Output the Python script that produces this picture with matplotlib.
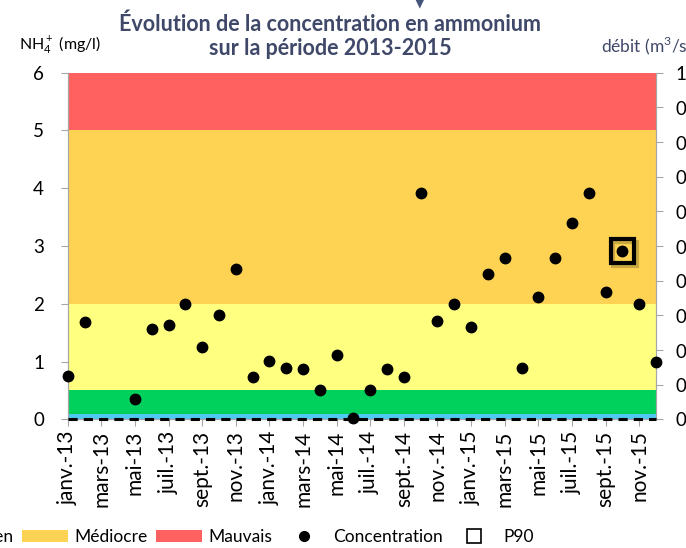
import numpy as np
import matplotlib
matplotlib.use('Agg')
import matplotlib.pyplot as plt
import matplotlib.patheffects as pe
from matplotlib.patches import Patch
from matplotlib.lines import Line2D

plt.rcParams['font.family'] = ['Lato', 'DejaVu Sans']
plt.rcParams['mathtext.fontset'] = 'custom'
plt.rcParams['mathtext.rm'] = 'Lato'

# monthly data, janv.-13 .. déc.-15
months = np.arange(36)
concentration = [0.75, 1.68, np.nan, np.nan, 0.36, 1.56, 1.63, 1.99, 1.26, 1.81, 2.61, 0.73,
                 1.01, 0.89, 0.87, 0.51, 1.11, 0.03, 0.50, 0.87, 0.74, 3.91, 1.71, 2.00,
                 1.60, 2.51, 2.80, 0.89, 2.11, 2.80, 3.40, 3.91, 2.21, 2.91, 2.00, 1.00]
debit = [0.0] * 36
p90_month = 33
p90_value = 2.91

tick_labels = ['janv.-13', 'mars-13', 'mai-13', 'juil.-13', 'sept.-13', 'nov.-13',
               'janv.-14', 'mars-14', 'mai-14', 'juil.-14', 'sept.-14', 'nov.-14',
               'janv.-15', 'mars-15', 'mai-15', 'juil.-15', 'sept.-15', 'nov.-15']

band_limits = [0, 0.1, 0.5, 2, 5, 6]
band_names = ['Très bon', 'Bon', 'Moyen', 'Médiocre', 'Mauvais']
band_colors = ['#4FC8F2', '#00D15C', '#FFFF80', '#FED354', '#FF6161']

right_ticks = [0, 0.1, 0.2, 0.3, 0.4, 0.5, 0.6, 0.7, 0.8, 0.9, 1]
right_labels = ['0', '0,1', '0,2', '0,3', '0,4', '0,5', '0,6', '0,7', '0,8', '0,9', '1']

fig = plt.figure(figsize=(6.86, 5.48), dpi=100)
ax = fig.add_axes([67.7 / 686, 1 - 419.3 / 548, (656 - 67.7) / 686, (419.3 - 72.7) / 548])
ax2 = ax.twinx()

gray = '#A6A6A6'
for i, name in enumerate(band_names):
    ax.axhspan(band_limits[i], band_limits[i + 1], color=band_colors[i], lw=0, zorder=0)

ax.set_xlim(0, 35)
ax.set_ylim(0, 6)
ax2.set_ylim(0, 1)

# débit (secondary axis)
ax2.plot(months, debit, color='black', lw=2.2, ls=(0, (3, 2)), zorder=3, clip_on=False)

# concentration drawn above the débit line
ax2.plot(months, concentration, 'o', color='black', ms=7.5, transform=ax.transData,
         clip_on=False, zorder=4)
ax2.plot([p90_month], [p90_value], 's', mfc='none', mec='black', mew=3, ms=17,
         transform=ax.transData, clip_on=False, zorder=5,
         path_effects=[pe.SimpleLineShadow(offset=(2, -2), shadow_color='#6b5a20', alpha=0.35),
                       pe.Normal()])

ax.set_xticks(months[::2])
ax.set_xticklabels(tick_labels, rotation=90, fontsize=15)
ax.set_yticks(range(7))
ax.tick_params(axis='y', labelsize=13.5, color=gray, length=5, pad=12)
ax.tick_params(axis='x', color=gray, length=5, pad=3)
ax2.set_yticks(right_ticks)
ax2.set_yticklabels(right_labels)
ax2.tick_params(axis='y', labelsize=13.5, color=gray, length=5, pad=9)

for a in (ax, ax2):
    a.spines['top'].set_visible(False)
    for s in ('left', 'right', 'bottom'):
        a.spines[s].set_color(gray)

title_color = '#3F4868'
fig.text(330 / 686, 1 - 36 / 548, 'Évolution de la concentration en ammonium\nsur la période 2013-2015',
         ha='center', va='center', fontsize=15.5, fontweight='bold', color=title_color, linespacing=1.2)
fig.text(420 / 686, 1 - 3 / 548, '▼', ha='center', va='center', fontsize=9, color='#44547A',
         family=['DejaVu Sans'])
fig.text(19 / 686, 1 - 46 / 548, 'NH$_4^+$ (mg/l)', ha='left', va='center', fontsize=11.5)
fig.text(601 / 686, 1 - 46 / 548, 'débit (m$^3$/s)', ha='left', va='center', fontsize=12.5,
         color=title_color)

handles = [Patch(facecolor=c, edgecolor='none') for c in band_colors]
handles.append(Line2D([], [], ls='none', marker='o', color='black', ms=7))
handles.append(Line2D([], [], ls='none', marker='s', mfc='none', mec='black', mew=1.2, ms=10))
labels = band_names + ['Concentration', 'P90']
fig.legend(handles, labels, loc='center left', bbox_to_anchor=(-0.479, 1 - 537 / 548), ncol=7,
           frameon=False, fontsize=12.5, handlelength=2.7, handletextpad=0.35, columnspacing=0.45)

fig.savefig('out.png', dpi=100)
